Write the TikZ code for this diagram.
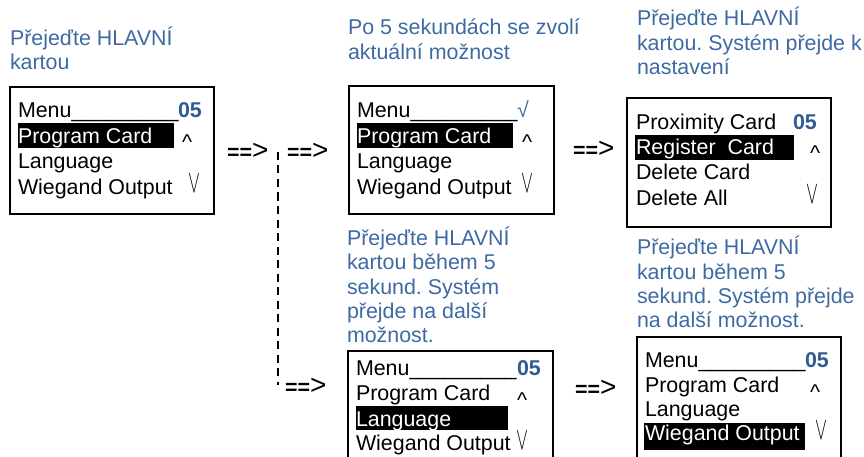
\documentclass[tikz,border=0pt]{standalone}
\usepackage{fontspec}
\setmainfont{Liberation Sans}
\definecolor{lblue}{RGB}{62,106,163}
\definecolor{nblue}{RGB}{47,90,148}
\frenchspacing
\tikzset{
  txt/.style={inner sep=0pt, outer sep=0pt, anchor=base west, font=\fontsize{21.4}{24}\selectfont},
  lab/.style={txt, text=lblue},
  wtxt/.style={txt, text=white},
  num/.style={txt, text=nblue, font=\fontsize{21.4}{24}\selectfont\bfseries},
  hl/.style={fill=black, draw=none},
  screen/.style={draw=black, line width=1.6pt, inner sep=0pt, anchor=north west},
  arrtxt/.style={inner sep=0pt, anchor=west, font=\fontsize{21.4}{24}\selectfont},
  dashline/.style={line width=2pt, dash pattern=on 8pt off 5.5pt},
  upmark/.style={txt},
  downmark/.style={txt, font=\fontsize{24}{26}\selectfont}
}
\newcommand{\arrowtext}{\textbf{==}{\fontsize{28}{28}\selectfont>}}
\newcommand{\upsym}{\textasciicircum}
\newcommand{\dnsym}{\scalebox{0.72}[1.3]{$\vee$}}
\begin{document}
\begin{tikzpicture}[x=1pt,y=-1pt]
\useasboundingbox (0,0) rectangle (864,457);
\clip (0,0) rectangle (864,457);

% ---------- Box 1 ----------
\node[lab] (l1a) at (10,46) {Přejeďte HLAVNÍ};
\node[lab] (l1b) at (10,70) {kartou};
\node[screen, minimum width=204pt, minimum height=127pt] (b1) at (9,86) {};
\fill[black] (18,123) rectangle (174,148);
\node[txt] (b1r1) at (18,118) {Menu\_\_\_\_\_\_\_\_\_};
\node[num] (b1n) at (178,118) {05};
\node[wtxt] (b1r2) at (18,143.3) {Program Card};
\node[upmark] (b1u) at (182,150) {\upsym};
\node[txt] (b1r3) at (18,168.6) {Language};
\node[txt] (b1r4) at (18,194) {Wiegand Output};
\node[downmark] (b1d) at (188.5,193) {\dnsym};

% ---------- arrows top ----------
\node[arrtxt] (a1) at (227,151) {\arrowtext};
\node[arrtxt] (a2) at (287,151) {\arrowtext};
\coordinate (split) at (278,152);
\coordinate (splitend) at (278,385);
\draw[dashline] (split) -- (splitend);

% ---------- Box 2 ----------
\node[lab] (l2a) at (348,35) {Po 5 sekundách se zvolí};
\node[lab] (l2b) at (348,60) {aktuální možnost};
\node[screen, minimum width=205pt, minimum height=128pt] (b2) at (348,85) {};
\fill[black] (357,123) rectangle (513,148);
\node[txt] (b2r1) at (357,118) {Menu\_\_\_\_\_\_\_\_\_};
\node[txt, text=lblue] (b2n) at (517,118) {√};
\node[wtxt] (b2r2) at (357,143.3) {Program Card};
\node[upmark] (b2u) at (522,150) {\upsym};
\node[txt] (b2r3) at (357,168.6) {Language};
\node[txt] (b2r4) at (357,194) {Wiegand Output};
\node[downmark] (b2d) at (521.5,193) {\dnsym};

\node[arrtxt] (a3) at (573,149) {\arrowtext};

% ---------- Box 3 ----------
\node[lab] (l3a) at (637,26) {Přejeďte HLAVNÍ};
\node[lab] (l3b) at (637,50.5) {kartou. Systém přejde k};
\node[lab] (l3c) at (637,74.5) {nastavení};
\node[screen, minimum width=204pt, minimum height=129pt] (b3) at (626,97) {};
\fill[black] (635,135) rectangle (794,160);
\node[txt] (b3r1) at (636,129.3) {Proximity Card};
\node[num] (b3n) at (793,129.3) {05};
\node[wtxt] (b3r2) at (636,154.3) {Register\ \ Card};
\node[upmark] (b3u) at (810,161) {\upsym};
\node[txt] (b3r3) at (636,179) {Delete Card};
\node[txt] (b3r4) at (636,205) {Delete All};
\node[downmark] (b3d) at (806.5,204) {\dnsym};

% ---------- Box 4 ----------
\node[lab] (l4a) at (347,245.7) {Přejeďte HLAVNÍ};
\node[lab] (l4b) at (347,269.5) {kartou během 5};
\node[lab] (l4c) at (347,294) {sekund. Systém};
\node[lab] (l4d) at (347,318.3) {přejde na další};
\node[lab] (l4e) at (347,342.7) {možnost.};
\node[arrtxt] (a4) at (285,386) {\arrowtext};
\node[screen, minimum width=205pt, minimum height=130pt] (b4) at (347,350) {};
\fill[black] (356,406) rectangle (508,430);
\node[txt] (b4r1) at (356,375.7) {Menu\_\_\_\_\_\_\_\_\_};
\node[num] (b4n) at (517,375.7) {05};
\node[txt] (b4r2) at (356,400.7) {Program Card};
\node[upmark] (b4u) at (517,407.5) {\upsym};
\node[wtxt] (b4r3) at (356,426) {Language};
\node[txt] (b4r4) at (356,450.7) {Wiegand Output};
\node[downmark] (b4d) at (516.5,449.7) {\dnsym};

% ---------- Box 5 ----------
\node[lab] (l5a) at (637,254.3) {Přejeďte HLAVNÍ};
\node[lab] (l5b) at (637,279.3) {kartou během 5};
\node[lab] (l5c) at (637,303.3) {sekund. Systém přejde};
\node[lab] (l5d) at (637,327.3) {na další možnost.};
\node[arrtxt] (a5) at (575,388) {\arrowtext};
\node[screen, minimum width=204pt, minimum height=140pt] (b5) at (636,336) {};
\fill[black] (644,423) rectangle (805,450);
\node[txt] (b5r1) at (645,367.7) {Menu\_\_\_\_\_\_\_\_\_};
\node[num] (b5n) at (805,367.7) {05};
\node[txt] (b5r2) at (645,392.3) {Program Card};
\node[upmark] (b5u) at (810,399) {\upsym};
\node[txt] (b5r3) at (645,416.7) {Language};
\node[wtxt] (b5r4) at (645,440) {Wiegand Output};
\node[downmark] (b5d) at (815.5,439) {\dnsym};
\end{tikzpicture}
\end{document}
